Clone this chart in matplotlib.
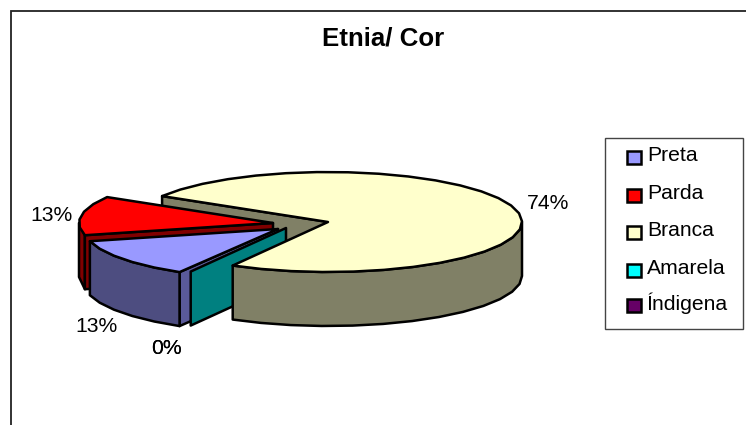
import numpy as np
import matplotlib
matplotlib.use("Agg")
import matplotlib.pyplot as plt
from matplotlib.patches import Polygon, Rectangle

plt.rcParams['font.family'] = ['Liberation Sans', 'DejaVu Sans']

# data
categories = ["Preta", "Parda", "Branca", "Amarela", "Índigena"]
values = [12.6, 12.6, 74.5, 0.3, 0.0]
top_colors = ["#9999FF", "#FF0000", "#FFFFCC", "#00FFFF", "#660066"]
wall_colors = ["#4D4D80", "#800000", "#808066", "#008080", "#330033"]
cut_colors = ["#5A5A9A", "#800000", "#808066", "#008080", "#330033"]
title = "Etnia/ Cor"

# layout, in pixels of the picture
W, H = 746, 425
A, B = 194, 50      # ellipse half axes
DEPTH = 54
START = 239.5       # angle where the first slice starts, going clockwise
centers = [(278, 229), (273, 223), (328, 222), (286, 228), (286, 228)]
label_pos = [(96.5, 327), (51, 215), (548.5, 203), (166, 349), (166, 349)]
legend_y = [157.5, 195, 232.5, 270, 305]

fig = plt.figure(figsize=(W / 100, H / 100), dpi=100)
ax = fig.add_axes([0, 0, 1, 1])
ax.set_xlim(0, W)
ax.set_ylim(H, 0)
ax.axis("off")

# angles of each slice
t1 = []
t2 = []
t = START
for v in values:
    t1.append(t)
    t = t - v / sum(values) * 360
    t2.append(t)


def rim(i, a, b, step=9):
    # points of the ellipse between angles a and b (a > b)
    n = max(int((a - b) / step), 1)
    ang = np.radians(np.linspace(a, b, n + 1))
    cx, cy = centers[i]
    return np.column_stack([cx + A * np.cos(ang), cy - B * np.sin(ang)])


def poly(pts, color, z):
    ax.add_patch(Polygon(pts, closed=True, facecolor=color, edgecolor="black",
                         linewidth=1.8, joinstyle="round", zorder=z))


def drop(pts):
    return pts + np.array([0, DEPTH])


def cut_face(i, ang, z):
    cx, cy = centers[i]
    p = rim(i, ang, ang - 0.01)[:1]
    c = np.array([[cx, cy]])
    poly(np.vstack([c, p, drop(p), drop(c)]), cut_colors[i], z)


def outer_wall(i, a, b, z):
    pts = rim(i, a, b)
    poly(np.vstack([pts, drop(pts)[::-1]]), wall_colors[i], z)


def top(i, z):
    cx, cy = centers[i]
    poly(np.vstack([[cx, cy], rim(i, t1[i], t2[i])]), top_colors[i], z)


# back to front
cut_face(2, t1[2], 1)

outer_wall(1, t1[1], 180, 2)
cut_face(1, t1[1], 3)
top(1, 4)

cut_face(0, t1[0], 5)
outer_wall(0, t1[0], t2[0], 6)
top(0, 7)

# the thin slices only show the cut face
cut_face(3, t1[3], 8)

# branca wall, from the right end round to the notch
outer_wall(2, 360, t2[2] + 360, 9)
top(2, 10)

# percent labels
for i, v in enumerate(values):
    ax.text(label_pos[i][0], label_pos[i][1], f"{v:.0f}%", fontsize=15.2,
            ha="center", va="center", color="black", zorder=12)

ax.text(383, 38, title, fontsize=18.6, fontweight="bold", ha="center", va="center")

# legend box
ax.add_patch(Rectangle((605, 138), 138, 191, facecolor="white", edgecolor="#444444",
                       linewidth=1, zorder=11))
for i, name in enumerate(categories):
    y = legend_y[i]
    ax.add_patch(Rectangle((627, y - 6.5), 14, 13, facecolor=top_colors[i],
                           edgecolor="black", linewidth=1.8, zorder=12))
    ax.text(647, y - 2, name, fontsize=15.2, ha="left", va="center", zorder=12)

# chart frame, only top and left are inside the picture
ax.plot([10.5, 10.5, W], [H, 10.5, 10.5], color="#222222", linewidth=1.3,
        solid_joinstyle="miter", zorder=0)

fig.savefig("out.png", dpi=100)
